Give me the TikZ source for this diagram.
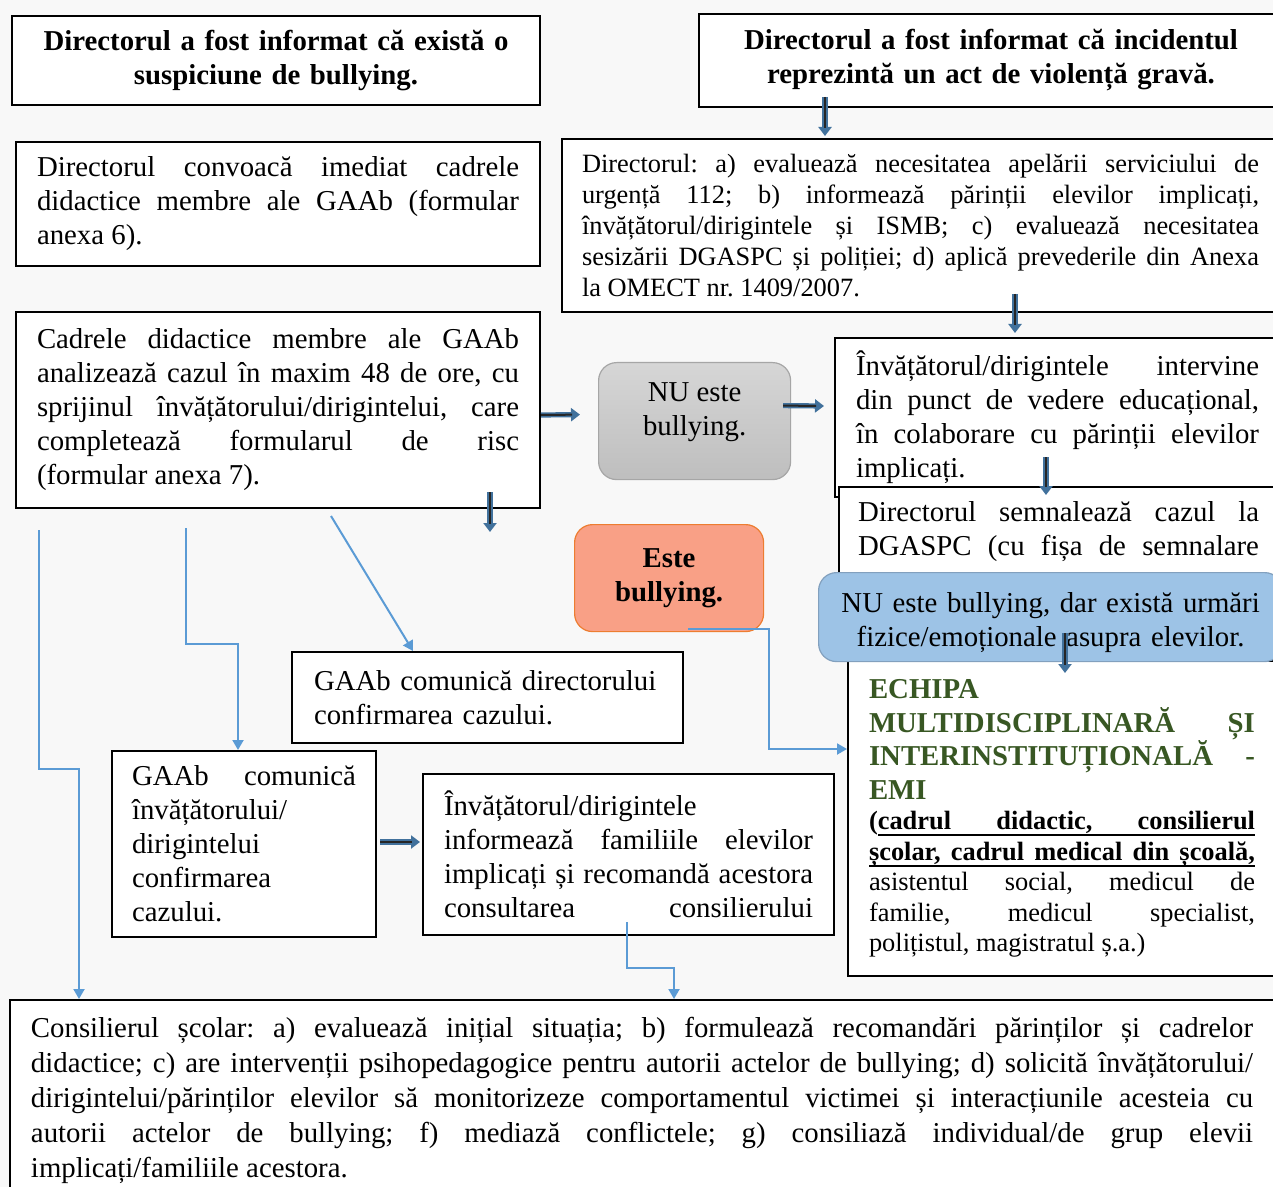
\documentclass[tikz,border=0pt]{standalone}
\usepackage{fontspec}
\setmainfont{Liberation Serif}
\usetikzlibrary{arrows.meta,positioning}
\definecolor{pagegray}{RGB}{248,248,248}
\definecolor{linkblue}{RGB}{91,155,213}
\definecolor{fatblue}{RGB}{65,113,156}
\definecolor{emigreen}{RGB}{56,87,35}
\definecolor{esteorange}{RGB}{249,160,134}
\definecolor{esteedge}{RGB}{237,125,49}
\definecolor{nublue}{RGB}{157,195,230}
\definecolor{nuedge}{RGB}{130,160,190}
\definecolor{nutop}{RGB}{214,214,214}
\definecolor{nubottom}{RGB}{190,190,190}
\definecolor{nuedgegray}{RGB}{166,166,166}
\newcommand{\MainSize}{\fontsize{14.4pt}{17pt}\selectfont}
\newcommand{\SmallSize}{\fontsize{13.2pt}{15.5pt}\selectfont}
\newcommand{\HeadSize}{\fontsize{14.4pt}{16.85pt}\selectfont}
\newcommand{\ListSize}{\fontsize{13.2pt}{15.25pt}\selectfont}
\newcommand{\BottomSize}{\fontsize{14.4pt}{17.5pt}\selectfont}
\newcommand{\UlWord}[1]{\leavevmode\setbox0\hbox{#1}\rlap{\vrule height -2.2pt depth 3.1pt width \wd0}\box0}
\newcommand{\UlGap}{\leaders\hrule height -2.2pt depth 3.1pt\hskip 0.25em plus 1em minus 0.08em}
\hyphenpenalty=10000
\exhyphenpenalty=10000
\frenchspacing

\begin{document}
\begin{tikzpicture}[
x=0.5pt, y=-0.5pt,
Box/.style={draw=black, line width=1pt, fill=white, anchor=north west, align=justify, inner ysep=0pt, font=\MainSize},
Round/.style={anchor=north west, rounded corners=9pt, align=center, inner sep=0pt, font=\MainSize},
FatArrow/.style={draw=fatblue, line width=2.6pt, -{Triangle[length=4.5pt,width=6.5pt]},
  postaction={draw=black!85, line width=1pt, -, shorten >=4pt}},
Link/.style={draw=linkblue, line width=1pt, -{Triangle[length=5pt,width=5.5pt]}}
]
\useasboundingbox (0,0) rectangle (1273,1187);
\clip (0,0) rectangle (1273,1187);
\fill[pagegray] (0,0) rectangle (1273,1187);

\node[Box, text width=244pt, inner xsep=10pt, minimum height=44.5pt, align=center, font=\MainSize\bfseries] (A) at (11,15)
  {Directorul a fost informat că există o\\ suspiciune de bullying.};
\node[Box, text width=272pt, inner xsep=10pt, minimum height=46.5pt, align=center, font=\MainSize\bfseries] (B) at (698,13)
  {Directorul a fost informat că incidentul\\ reprezintă un act de violență gravă.};

\node[Box, text width=338.5pt, inner xsep=10pt, minimum height=86.5pt, font=\SmallSize] (C) at (561,138)
  {Directorul: a) evaluează necesitatea apelării serviciului de\linebreak urgență 112; b) informează părinții elevilor implicați,\linebreak învățătorul/dirigintele și ISMB; c) evaluează necesitatea\linebreak sesizării DGASPC și poliției; d) aplică prevederile din Anexa\linebreak la OMECT nr. 1409/2007.};
\node[Box, text width=241pt, inner xsep=10.5pt, minimum height=62pt] (D) at (15,141)
  {Directorul convoacă imediat cadrele\linebreak didactice membre ale GAAb (formular\linebreak anexa 6).};
\node[Box, text width=241pt, inner xsep=10.5pt, minimum height=98pt] (E) at (15,311)
  {Cadrele didactice membre ale GAAb\linebreak analizează cazul în maxim 48 de ore, cu\linebreak sprijinul învățătorului/dirigintelui, care\linebreak completează formularul de risc\linebreak (formular anexa 7).};

\node[Box, text width=201.5pt, inner xsep=10.5pt, minimum height=79.5pt] (F) at (834,337)
  {Învățătorul/dirigintele intervine\linebreak din punct de vedere educațional,\linebreak în colaborare cu părinții elevilor\linebreak implicați.};
\node[Box, text width=200.5pt, inner xsep=9.5pt, minimum height=45pt] (G) at (838,486)
  {Directorul semnalează cazul la\linebreak DGASPC \hfill(cu \hfill fișa \hfill de \hfill semnalare};

\node[Round, minimum width=96pt, minimum height=58.5pt, text depth=12pt, top color=nutop, bottom color=nubottom, draw=nuedgegray, line width=0.6pt] (N) at (598,362)
  {NU este\\ bullying.};
\node[Round, minimum width=94.5pt, minimum height=53.5pt, fill=esteorange, draw=esteedge, line width=0.6pt, font=\MainSize\bfseries] (O) at (574,524)
  {Este\\ bullying.};

\node[Box, text width=193pt, inner xsep=10.5pt, minimum height=157.5pt] (H) at (847,660)
  {{\HeadSize\bfseries\color{emigreen}ECHIPA\newline MULTIDISCIPLINARĂ ȘI\linebreak INTERINSTITUȚIONALĂ -\linebreak EMI\par}
   {\ListSize\textbf{(\UlWord{cadrul}\UlGap\UlWord{didactic,}\UlGap\UlWord{consilierul}\linebreak
   \UlWord{școlar,}\UlGap\UlWord{cadrul}\UlGap\UlWord{medical}\UlGap\UlWord{din}\UlGap\UlWord{școală,}}\linebreak
   asistentul social, medicul de\linebreak familie, medicul specialist,\linebreak polițistul, magistratul ș.a.)\par}};
\node[Round, minimum width=232pt, minimum height=44.5pt, text width=228pt, text depth=15pt, fill=nublue, draw=nuedge, line width=0.6pt] (U) at (818,572)
  {NU este bullying, dar există urmări\\ fizice/emoționale asupra elevilor.};

\node[Box, text width=173.5pt, inner xsep=11pt, minimum height=45.5pt, align=left] (I) at (291,651)
  {GAAb comunică directorului\\ confirmarea cazului.};
\node[Box, text width=112pt, inner xsep=10pt, minimum height=93pt] (J) at (111,750)
  {GAAb comunică\linebreak învățătorului/\newline dirigintelui\newline confirmarea\newline cazului.};
\node[Box, text width=184.5pt, inner xsep=10.5pt, minimum height=80.5pt] (K) at (422,773)
  {Învățătorul/dirigintele\newline informează familiile elevilor\linebreak implicați și recomandă acestora\linebreak consultarea\hfill consilierului};
\node[Box, text width=611pt, inner xsep=10.5pt, minimum height=100pt, font=\BottomSize] (L) at (9,999)
  {Consilierul școlar: a) evaluează inițial situația; b) formulează recomandări părinților și cadrelor\linebreak didactice; c) are intervenții psihopedagogice pentru autorii actelor de bullying; d) solicită învățătorului/\linebreak dirigintelui/părinților elevilor să monitorizeze comportamentul victimei și interacțiunile acesteia cu\linebreak autorii actelor de bullying; f) mediază conflictele; g) consiliază individual/de grup elevii\linebreak implicați/familiile acestora.};

\coordinate (EDown) at (490,532);

% thick arrows
\draw[FatArrow] ([shift={(127,-11)}]B.south west) -- ([shift={(264,-2)}]C.north west);
\draw[FatArrow] ([shift={(454,-19)}]C.south west) -- ([shift={(181,-4)}]F.north west);
\draw[FatArrow] ([shift={(0,5)}]E.east) -- ([shift={(-18,-6.5)}]N.west);
\draw[FatArrow] ([shift={(-8,-15.5)}]N.east) -- ([shift={(-10,-11.5)}]F.west);
\draw[FatArrow] ([shift={(212,-41)}]F.south west) -- ([shift={(208,9)}]G.north west);
\draw[FatArrow] ([shift={(475,-17)}]E.south west) -- (EDown);
\draw[FatArrow] ([shift={(247,-29)}]U.south west) -- ([shift={(218,13)}]H.north west);
\draw[FatArrow] ([shift={(3,-2)}]J.east) -- ([shift={(-2,-12.5)}]K.west);

% thin links
\draw[Link] ([shift={(114,-3)}]O.south west) -- ++(81,0) |- ([shift={(0,-69.5)}]H.west);
\draw[Link] ([shift={(24,21)}]E.south west) -- ++(0,239) -| ([shift={(70,0)}]L.north west);
\draw[Link] ([shift={(171,19)}]E.south west) -- ++(0,116) -| ([shift={(127,0)}]J.north west);
\draw[Link] ([shift={(316,7)}]E.south west) -- ([shift={(122,0)}]I.north west);
\draw[Link] ([shift={(205,-14)}]K.south west) -- ++(0,46) -| ([shift={(665,0)}]L.north west);

\end{tikzpicture}
\end{document}
